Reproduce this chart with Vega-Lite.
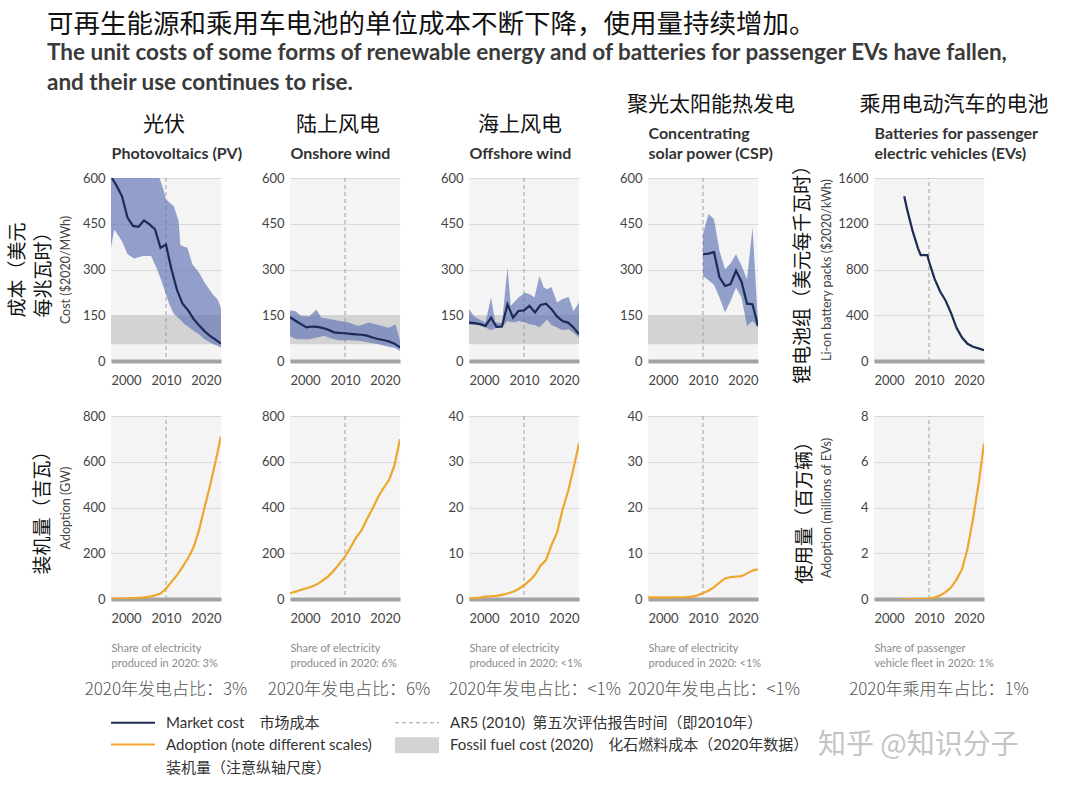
{
"$schema":"https://vega.github.io/schema/vega-lite/v6.json",
"padding":{"left":8,"top":12,"right":0,"bottom":0},
"title":{"text":"可再生能源和乘用车电池的单位成本不断下降，使用量持续增加。","subtitle":["The unit costs of some forms of renewable energy and of batteries for passenger EVs have fallen,","and their use continues to rise."],"anchor":"start","frame":"bounds","dx":39,"offset":0,"font":"Noto Sans CJK SC","fontSize":26.5,"fontWeight":"normal","color":"#111","subtitleFont":"Lato","subtitleFontSize":22.5,"subtitleFontWeight":"bold","subtitleColor":"#3a3a3a","subtitleLineHeight":30,"subtitlePadding":3},
"config":{"view":{"stroke":null},"axis":{"labelFont":"Lato","labelFontSize":13,"labelColor":"#444","ticks":false,"tickSize":0,"domain":false,"grid":false,"titleFont":"Lato","titleFontWeight":"normal","titleFontSize":12.5,"titleColor":"#444"}},
"resolve":{"scale":{"stroke":"independent"},"legend":{"stroke":"independent"}},
"datasets":{
"ar5":[{"year":2010}],
"fossil":[{"lo":55,"hi":150}],
"pv_line":[{"year":2000,"cost":605},{"year":2001,"cost":575},{"year":2002,"cost":540},{"year":2003,"cost":470},{"year":2004,"cost":443},{"year":2005,"cost":440},{"year":2006,"cost":461},{"year":2007,"cost":448},{"year":2008,"cost":432},{"year":2009,"cost":371},{"year":2010,"cost":382},{"year":2010.5,"cost":340},{"year":2011,"cost":300},{"year":2012,"cost":233},{"year":2013,"cost":188},{"year":2014,"cost":167},{"year":2015,"cost":138},{"year":2016,"cost":117},{"year":2017,"cost":98},{"year":2018,"cost":82},{"year":2019,"cost":70},{"year":2020,"cost":57}],
"pv_band":[{"year":2000,"lo":371,"hi":900},{"year":2000.6,"lo":431,"hi":890},{"year":2002,"lo":393,"hi":850},{"year":2003,"lo":350,"hi":830},{"year":2004.2,"lo":336,"hi":800},{"year":2005.8,"lo":344,"hi":760},{"year":2007.3,"lo":344,"hi":700},{"year":2008.5,"lo":295,"hi":625},{"year":2008.8,"lo":280,"hi":600},{"year":2009.5,"lo":246,"hi":565},{"year":2010,"lo":218,"hi":530},{"year":2010.6,"lo":186,"hi":520},{"year":2011.4,"lo":155,"hi":508},{"year":2012.3,"lo":140,"hi":459},{"year":2012.6,"lo":136,"hi":380},{"year":2013.4,"lo":120,"hi":374},{"year":2013.9,"lo":115,"hi":371},{"year":2014.8,"lo":102,"hi":317},{"year":2016,"lo":88,"hi":290},{"year":2017,"lo":71,"hi":257},{"year":2018.5,"lo":56,"hi":219},{"year":2019.4,"lo":49,"hi":202},{"year":2020,"lo":44,"hi":172}],
"on_line":[{"year":2000,"cost":144},{"year":2001,"cost":132},{"year":2002,"cost":121},{"year":2003,"cost":110},{"year":2004,"cost":113},{"year":2005,"cost":112},{"year":2006,"cost":108},{"year":2007,"cost":102},{"year":2008,"cost":94},{"year":2009,"cost":92},{"year":2010,"cost":91},{"year":2011,"cost":89},{"year":2012,"cost":87},{"year":2013,"cost":86},{"year":2014,"cost":83},{"year":2015,"cost":77},{"year":2016,"cost":72},{"year":2017,"cost":69},{"year":2018,"cost":64},{"year":2019,"cost":57},{"year":2020,"cost":45}],
"on_band":[{"year":2000,"lo":82,"hi":166},{"year":2001,"lo":72,"hi":163},{"year":2002,"lo":71,"hi":148},{"year":2003.5,"lo":71,"hi":146},{"year":2004.8,"lo":76,"hi":169},{"year":2005.7,"lo":80,"hi":142},{"year":2006.3,"lo":82,"hi":140},{"year":2007.5,"lo":74,"hi":137},{"year":2008.8,"lo":68,"hi":132},{"year":2010.6,"lo":68,"hi":126},{"year":2012.4,"lo":66,"hi":115},{"year":2013.7,"lo":63,"hi":122},{"year":2014.3,"lo":61,"hi":126},{"year":2016.1,"lo":55,"hi":118},{"year":2017.9,"lo":47,"hi":109},{"year":2018.6,"lo":44,"hi":115},{"year":2019.2,"lo":42,"hi":120},{"year":2020,"lo":33,"hi":66}],
"off_line":[{"year":2000,"cost":126},{"year":2001,"cost":124},{"year":2002,"cost":121},{"year":2003,"cost":115},{"year":2004,"cost":142},{"year":2005,"cost":112},{"year":2006,"cost":113},{"year":2007,"cost":186},{"year":2008,"cost":142},{"year":2009,"cost":164},{"year":2010,"cost":166},{"year":2011,"cost":181},{"year":2012,"cost":159},{"year":2013,"cost":184},{"year":2014,"cost":188},{"year":2015,"cost":170},{"year":2016,"cost":146},{"year":2017,"cost":131},{"year":2018,"cost":126},{"year":2019,"cost":110},{"year":2020,"cost":88}],
"off_band":[{"year":2000,"lo":120,"hi":170},{"year":2001,"lo":119,"hi":145},{"year":2002,"lo":117,"hi":135},{"year":2003,"lo":110,"hi":126},{"year":2004,"lo":101,"hi":208},{"year":2004.8,"lo":107,"hi":126},{"year":2006,"lo":110,"hi":125},{"year":2007,"lo":131,"hi":307},{"year":2007.6,"lo":128,"hi":181},{"year":2008.4,"lo":127,"hi":197},{"year":2009,"lo":131,"hi":208},{"year":2010.2,"lo":126,"hi":224},{"year":2011.1,"lo":120,"hi":219},{"year":2011.9,"lo":118,"hi":208},{"year":2012.8,"lo":111,"hi":279},{"year":2013.6,"lo":125,"hi":241},{"year":2014.2,"lo":137,"hi":235},{"year":2015,"lo":118,"hi":243},{"year":2016,"lo":110,"hi":192},{"year":2017,"lo":101,"hi":203},{"year":2018.1,"lo":104,"hi":210},{"year":2019,"lo":93,"hi":164},{"year":2020,"lo":77,"hi":192}],
"csp_line":[{"year":2010,"cost":350},{"year":2011,"cost":352},{"year":2012,"cost":357},{"year":2013,"cost":274},{"year":2014,"cost":246},{"year":2015,"cost":252},{"year":2016,"cost":296},{"year":2017,"cost":260},{"year":2018,"cost":188},{"year":2019,"cost":186},{"year":2020,"cost":115}],
"csp_band":[{"year":2010,"lo":279,"hi":416},{"year":2011,"lo":265,"hi":482},{"year":2012,"lo":250,"hi":465},{"year":2013,"lo":208,"hi":361},{"year":2014,"lo":159,"hi":301},{"year":2015,"lo":197,"hi":320},{"year":2016,"lo":241,"hi":350},{"year":2017,"lo":208,"hi":312},{"year":2018,"lo":115,"hi":268},{"year":2019,"lo":131,"hi":438},{"year":2020,"lo":110,"hi":125}],
"ev_line":[{"year":2005.5,"cost":1440},{"year":2006,"cost":1330},{"year":2007,"cost":1140},{"year":2008,"cost":985},{"year":2008.5,"cost":925},{"year":2009.7,"cost":925},{"year":2010,"cost":870},{"year":2011,"cost":720},{"year":2012,"cost":610},{"year":2013,"cost":530},{"year":2014,"cost":420},{"year":2015,"cost":290},{"year":2016,"cost":205},{"year":2017,"cost":150},{"year":2018,"cost":125},{"year":2019,"cost":110},{"year":2020,"cost":95}],
"pv_adopt":[{"year":2000,"value":1},{"year":2001,"value":1.5},{"year":2002,"value":2},{"year":2003,"value":3},{"year":2004,"value":4},{"year":2005,"value":5.5},{"year":2006,"value":7},{"year":2007,"value":10},{"year":2008,"value":16},{"year":2009,"value":24},{"year":2010,"value":45},{"year":2011,"value":75},{"year":2012,"value":104},{"year":2013,"value":140},{"year":2014,"value":178},{"year":2015,"value":225},{"year":2016,"value":300},{"year":2017,"value":400},{"year":2018,"value":495},{"year":2019,"value":600},{"year":2020,"value":712}],
"on_adopt":[{"year":2000,"value":25},{"year":2001,"value":32},{"year":2002,"value":40},{"year":2003,"value":47},{"year":2004,"value":55},{"year":2005,"value":65},{"year":2006,"value":82},{"year":2007,"value":100},{"year":2008,"value":125},{"year":2009,"value":155},{"year":2010,"value":185},{"year":2011,"value":225},{"year":2012,"value":268},{"year":2013,"value":300},{"year":2014,"value":350},{"year":2015,"value":395},{"year":2016,"value":445},{"year":2017,"value":485},{"year":2018,"value":520},{"year":2019,"value":585},{"year":2020,"value":698}],
"off_adopt":[{"year":2000,"value":0.1},{"year":2001,"value":0.2},{"year":2002,"value":0.3},{"year":2003,"value":0.5},{"year":2004,"value":0.6},{"year":2005,"value":0.7},{"year":2006,"value":0.9},{"year":2007,"value":1.2},{"year":2008,"value":1.6},{"year":2009,"value":2.2},{"year":2010,"value":3.0},{"year":2011,"value":4.0},{"year":2012,"value":5.3},{"year":2013,"value":7.3},{"year":2014,"value":8.5},{"year":2015,"value":11.8},{"year":2016,"value":14.5},{"year":2017,"value":19.5},{"year":2018,"value":23.5},{"year":2019,"value":28.5},{"year":2020,"value":34}],
"csp_adopt":[{"year":2000,"value":0.35},{"year":2002,"value":0.35},{"year":2004,"value":0.36},{"year":2006,"value":0.38},{"year":2007,"value":0.42},{"year":2008,"value":0.5},{"year":2009,"value":0.8},{"year":2010,"value":1.3},{"year":2011,"value":1.8},{"year":2012,"value":2.6},{"year":2013,"value":3.6},{"year":2014,"value":4.5},{"year":2015,"value":4.8},{"year":2016,"value":4.9},{"year":2017,"value":5.0},{"year":2018,"value":5.6},{"year":2019,"value":6.2},{"year":2020,"value":6.5}],
"ev_adopt":[{"year":2005,"value":0},{"year":2006,"value":0},{"year":2007,"value":0},{"year":2008,"value":0.005},{"year":2009,"value":0.01},{"year":2010,"value":0.02},{"year":2011,"value":0.06},{"year":2012,"value":0.15},{"year":2013,"value":0.3},{"year":2014,"value":0.5},{"year":2015,"value":0.85},{"year":2016,"value":1.3},{"year":2017,"value":2.2},{"year":2018,"value":3.5},{"year":2019,"value":5.0},{"year":2020,"value":6.8}]
},
"columns":10,
"spacing":{"row":55,"column":22},
"bounds":"flush",
"align":"each",
"concat":[
{"width":110,"height":183,"view":{"fill":"#f4f4f4","stroke":null},
 "title":{"text":"光伏","orient":"top","anchor":"middle","frame":"group","font":"Noto Sans CJK SC","fontSize":21,"fontWeight":"normal","color":"#111","offset":10,"dx":-2},
 "layer":[
  {"data":{"name":"fossil"},"mark":{"type":"rect","color":"#d3d3d3"},"encoding":{"y":{"field":"lo","type":"quantitative","scale":{"domain":[0,600],"nice":false},"axis":{"orient":"left","values":[0,150,300,450,600],"grid":true,"gridColor":"#d9d9d9","labelPadding":6,"title":"Cost ($2020/MWh)","titlePadding":10}},"y2":{"field":"hi"}}},
  {"data":{"name":"ar5"},"mark":{"type":"rule","color":"#9f9f9f","strokeDash":[4,3],"strokeWidth":1},"encoding":{"x":{"field":"year","type":"quantitative","scale":{"domain":[2000,2020],"nice":false,"zero":false},"axis":{"orient":"top","labels":false,"domain":false,"ticks":false,"grid":false,"title":"Photovoltaics (PV)","titleAnchor":"start","titleAlign":"left","titleBaseline":"bottom","titlePadding":17,"titleFont":"Lato","titleFontSize":16,"titleFontWeight":"bold","titleColor":"#333","titleLineHeight":20}}}},
  {"data":{"name":"pv_band"},"mark":{"type":"area","color":"#5d72b4","opacity":0.65,"clip":true},"encoding":{"x":{"field":"year","type":"quantitative","scale":{"domain":[2000,2020],"nice":false,"zero":false},"axis":{"orient":"bottom","values":[2000,2010,2020],"format":"d","labelFlush":true,"domain":true,"domainColor":"#a3a3a3","domainWidth":4,"labelPadding":13,"title":null}},"y":{"field":"hi","type":"quantitative","scale":{"domain":[0,600],"nice":false},"axis":{"orient":"left","labels":false,"ticks":false,"domain":false,"grid":false,"title":["成本（美元","每兆瓦时）"],"titleFont":"Noto Sans CJK SC","titleFontSize":19,"titleFontWeight":"normal","titleColor":"#111","titlePadding":58,"titleLineHeight":26}},"y2":{"field":"lo"}}},
  {"data":{"name":"pv_line"},"mark":{"type":"line","color":"#1c2b54","strokeWidth":2.2,"clip":true},"encoding":{"x":{"field":"year","type":"quantitative","scale":{"domain":[2000,2020],"nice":false,"zero":false},"axis":null},"y":{"field":"cost","type":"quantitative","scale":{"domain":[0,600],"nice":false},"axis":null}}}
 ],
 "resolve":{"axis":{"x":"independent","y":"independent"}}},
{"width":25,"height":183,"data":{"values":[{}]},"mark":{"type":"text","text":""},"encoding":{}},
{"width":110,"height":183,"view":{"fill":"#f4f4f4","stroke":null},
 "title":{"text":"陆上风电","orient":"top","anchor":"middle","frame":"group","font":"Noto Sans CJK SC","fontSize":21,"fontWeight":"normal","color":"#111","offset":10,"dx":-7},
 "layer":[
  {"data":{"name":"fossil"},"mark":{"type":"rect","color":"#d3d3d3"},"encoding":{"y":{"field":"lo","type":"quantitative","scale":{"domain":[0,600],"nice":false},"axis":{"orient":"left","values":[0,150,300,450,600],"grid":true,"gridColor":"#d9d9d9","labelPadding":6,"title":null}},"y2":{"field":"hi"}}},
  {"data":{"name":"ar5"},"mark":{"type":"rule","color":"#9f9f9f","strokeDash":[4,3],"strokeWidth":1},"encoding":{"x":{"field":"year","type":"quantitative","scale":{"domain":[2000,2020],"nice":false,"zero":false},"axis":{"orient":"top","labels":false,"domain":false,"ticks":false,"grid":false,"title":"Onshore wind","titleAnchor":"start","titleAlign":"left","titleBaseline":"bottom","titlePadding":17,"titleFont":"Lato","titleFontSize":16,"titleFontWeight":"bold","titleColor":"#333","titleLineHeight":20}}}},
  {"data":{"name":"on_band"},"mark":{"type":"area","color":"#5d72b4","opacity":0.65,"clip":true},"encoding":{"x":{"field":"year","type":"quantitative","scale":{"domain":[2000,2020],"nice":false,"zero":false},"axis":{"orient":"bottom","values":[2000,2010,2020],"format":"d","labelFlush":true,"domain":true,"domainColor":"#a3a3a3","domainWidth":4,"labelPadding":13,"title":null}},"y":{"field":"hi","type":"quantitative","scale":{"domain":[0,600],"nice":false},"axis":null},"y2":{"field":"lo"}}},
  {"data":{"name":"on_line"},"mark":{"type":"line","color":"#1c2b54","strokeWidth":2.2,"clip":true},"encoding":{"x":{"field":"year","type":"quantitative","scale":{"domain":[2000,2020],"nice":false,"zero":false},"axis":null},"y":{"field":"cost","type":"quantitative","scale":{"domain":[0,600],"nice":false},"axis":null}}}
 ],
 "resolve":{"axis":{"x":"independent","y":"independent"}}},
{"width":25,"height":183,"data":{"values":[{}]},"mark":{"type":"text","text":""},"encoding":{}},
{"width":110,"height":183,"view":{"fill":"#f4f4f4","stroke":null},
 "title":{"text":"海上风电","orient":"top","anchor":"middle","frame":"group","font":"Noto Sans CJK SC","fontSize":21,"fontWeight":"normal","color":"#111","offset":10,"dx":-4},
 "layer":[
  {"data":{"name":"fossil"},"mark":{"type":"rect","color":"#d3d3d3"},"encoding":{"y":{"field":"lo","type":"quantitative","scale":{"domain":[0,600],"nice":false},"axis":{"orient":"left","values":[0,150,300,450,600],"grid":true,"gridColor":"#d9d9d9","labelPadding":6,"title":null}},"y2":{"field":"hi"}}},
  {"data":{"name":"ar5"},"mark":{"type":"rule","color":"#9f9f9f","strokeDash":[4,3],"strokeWidth":1},"encoding":{"x":{"field":"year","type":"quantitative","scale":{"domain":[2000,2020],"nice":false,"zero":false},"axis":{"orient":"top","labels":false,"domain":false,"ticks":false,"grid":false,"title":"Offshore wind","titleAnchor":"start","titleAlign":"left","titleBaseline":"bottom","titlePadding":17,"titleFont":"Lato","titleFontSize":16,"titleFontWeight":"bold","titleColor":"#333","titleLineHeight":20}}}},
  {"data":{"name":"off_band"},"mark":{"type":"area","color":"#5d72b4","opacity":0.65,"clip":true},"encoding":{"x":{"field":"year","type":"quantitative","scale":{"domain":[2000,2020],"nice":false,"zero":false},"axis":{"orient":"bottom","values":[2000,2010,2020],"format":"d","labelFlush":true,"domain":true,"domainColor":"#a3a3a3","domainWidth":4,"labelPadding":13,"title":null}},"y":{"field":"hi","type":"quantitative","scale":{"domain":[0,600],"nice":false},"axis":null},"y2":{"field":"lo"}}},
  {"data":{"name":"off_line"},"mark":{"type":"line","color":"#1c2b54","strokeWidth":2.2,"clip":true},"encoding":{"x":{"field":"year","type":"quantitative","scale":{"domain":[2000,2020],"nice":false,"zero":false},"axis":null},"y":{"field":"cost","type":"quantitative","scale":{"domain":[0,600],"nice":false},"axis":null}}}
 ],
 "resolve":{"axis":{"x":"independent","y":"independent"}}},
{"width":25,"height":183,"data":{"values":[{}]},"mark":{"type":"text","text":""},"encoding":{}},
{"width":110,"height":183,"view":{"fill":"#f4f4f4","stroke":null},
 "title":{"text":"聚光太阳能热发电","orient":"top","anchor":"middle","frame":"group","font":"Noto Sans CJK SC","fontSize":21,"fontWeight":"normal","color":"#111","offset":10,"dx":8},
 "layer":[
  {"data":{"name":"fossil"},"mark":{"type":"rect","color":"#d3d3d3"},"encoding":{"y":{"field":"lo","type":"quantitative","scale":{"domain":[0,600],"nice":false},"axis":{"orient":"left","values":[0,150,300,450,600],"grid":true,"gridColor":"#d9d9d9","labelPadding":6,"title":null}},"y2":{"field":"hi"}}},
  {"data":{"name":"ar5"},"mark":{"type":"rule","color":"#9f9f9f","strokeDash":[4,3],"strokeWidth":1},"encoding":{"x":{"field":"year","type":"quantitative","scale":{"domain":[2000,2020],"nice":false,"zero":false},"axis":{"orient":"top","labels":false,"domain":false,"ticks":false,"grid":false,"title":["Concentrating","solar power (CSP)"],"titleAnchor":"start","titleAlign":"left","titleBaseline":"bottom","titlePadding":17,"titleFont":"Lato","titleFontSize":16,"titleFontWeight":"bold","titleColor":"#333","titleLineHeight":20}}}},
  {"data":{"name":"csp_band"},"mark":{"type":"area","color":"#5d72b4","opacity":0.65,"clip":true},"encoding":{"x":{"field":"year","type":"quantitative","scale":{"domain":[2000,2020],"nice":false,"zero":false},"axis":{"orient":"bottom","values":[2000,2010,2020],"format":"d","labelFlush":true,"domain":true,"domainColor":"#a3a3a3","domainWidth":4,"labelPadding":13,"title":null}},"y":{"field":"hi","type":"quantitative","scale":{"domain":[0,600],"nice":false},"axis":null},"y2":{"field":"lo"}}},
  {"data":{"name":"csp_line"},"mark":{"type":"line","color":"#1c2b54","strokeWidth":2.2,"clip":true},"encoding":{"x":{"field":"year","type":"quantitative","scale":{"domain":[2000,2020],"nice":false,"zero":false},"axis":null},"y":{"field":"cost","type":"quantitative","scale":{"domain":[0,600],"nice":false},"axis":null}}}
 ],
 "resolve":{"axis":{"x":"independent","y":"independent"}}},
{"width":25,"height":183,"data":{"values":[{}]},"mark":{"type":"text","text":""},"encoding":{}},
{"width":25,"height":183,"data":{"values":[{}]},"mark":{"type":"text","text":""},"encoding":{}},
{"width":110,"height":183,"view":{"fill":"#f4f4f4","stroke":null},
 "title":{"text":"乘用电动汽车的电池","orient":"top","anchor":"middle","frame":"group","font":"Noto Sans CJK SC","fontSize":21,"fontWeight":"normal","color":"#111","offset":10,"dx":25},
 "layer":[
  {"data":{"name":"ar5"},"mark":{"type":"rule","color":"#9f9f9f","strokeDash":[4,3],"strokeWidth":1},"encoding":{"x":{"field":"year","type":"quantitative","scale":{"domain":[2000,2020],"nice":false,"zero":false},"axis":{"orient":"top","labels":false,"domain":false,"ticks":false,"grid":false,"title":["Batteries for passenger","electric vehicles (EVs)"],"titleAnchor":"start","titleAlign":"left","titleBaseline":"bottom","titlePadding":17,"titleFont":"Lato","titleFontSize":16,"titleFontWeight":"bold","titleColor":"#333","titleLineHeight":20}},"y":{"datum":0,"type":"quantitative","scale":{"domain":[0,1600],"nice":false},"axis":{"orient":"left","labels":false,"ticks":false,"domain":false,"grid":false,"title":"锂电池组（美元每千瓦时）","titleFont":"Noto Sans CJK SC","titleFontSize":19,"titleFontWeight":"normal","titleColor":"#111","titlePadding":62}},"y2":{"datum":1600}}},
  {"data":{"name":"ev_line"},"mark":{"type":"line","color":"#1c2b54","strokeWidth":2.2,"clip":true},"encoding":{"x":{"field":"year","type":"quantitative","scale":{"domain":[2000,2020],"nice":false,"zero":false},"axis":{"orient":"bottom","values":[2000,2010,2020],"format":"d","labelFlush":true,"domain":true,"domainColor":"#a3a3a3","domainWidth":4,"labelPadding":13,"title":null}},"y":{"field":"cost","type":"quantitative","scale":{"domain":[0,1600],"nice":false},"axis":{"orient":"left","values":[0,400,800,1200,1600],"format":"d","grid":true,"gridColor":"#d9d9d9","labelPadding":6,"title":"Li-on battery packs ($2020/kWh)","titlePadding":4}}}}
 ],
 "resolve":{"axis":{"x":"independent","y":"independent"}}},

{"width":110,"height":183,"view":{"fill":"#f4f4f4","stroke":null},
 "title":{"text":"2020年发电占比：3%","orient":"bottom","anchor":"middle","frame":"group","font":"Noto Sans CJK SC","fontSize":17,"fontWeight":300,"color":"#555","offset":14,"dx":0},
 "layer":[
  {"data":{"name":"ar5"},"mark":{"type":"rule","color":"#9f9f9f","strokeDash":[4,3],"strokeWidth":1},"encoding":{"x":{"field":"year","type":"quantitative","scale":{"domain":[2000,2020],"nice":false,"zero":false},"axis":null},"y":{"datum":0,"type":"quantitative","scale":{"domain":[0,800],"nice":false},"axis":{"orient":"left","labels":false,"ticks":false,"domain":false,"grid":false,"title":"装机量（吉瓦）","titleFont":"Noto Sans CJK SC","titleFontSize":19,"titleFontWeight":"normal","titleColor":"#111","titlePadding":59}},"y2":{"datum":800}}},
  {"data":{"name":"pv_adopt"},"mark":{"type":"line","color":"#eea62c","strokeWidth":2.2,"clip":true},"encoding":{"x":{"field":"year","type":"quantitative","scale":{"domain":[2000,2020],"nice":false,"zero":false},"axis":{"orient":"bottom","values":[2000,2010,2020],"format":"d","labelFlush":true,"domain":true,"domainColor":"#a3a3a3","domainWidth":4,"labelPadding":13,"title":["Share of electricity","produced in 2020: 3%"],"titleAnchor":"start","titleAlign":"left","titleBaseline":"top","titlePadding":17,"titleFont":"Lato","titleFontSize":11,"titleFontWeight":"normal","titleColor":"#8c8c8c","titleLineHeight":15}},"y":{"field":"value","type":"quantitative","scale":{"domain":[0,800],"nice":false},"axis":{"orient":"left","values":[0,200,400,600,800],"grid":true,"gridColor":"#d9d9d9","labelPadding":6,"title":"Adoption (GW)","titlePadding":10}}}}
 ],
 "resolve":{"axis":{"x":"independent","y":"independent"}}},
{"width":25,"height":183,"data":{"values":[{}]},"mark":{"type":"text","text":""},"encoding":{}},
{"width":110,"height":183,"view":{"fill":"#f4f4f4","stroke":null},
 "title":{"text":"2020年发电占比：6%","orient":"bottom","anchor":"middle","frame":"group","font":"Noto Sans CJK SC","fontSize":17,"fontWeight":300,"color":"#555","offset":14,"dx":4},
 "layer":[
  {"data":{"name":"ar5"},"mark":{"type":"rule","color":"#9f9f9f","strokeDash":[4,3],"strokeWidth":1},"encoding":{"x":{"field":"year","type":"quantitative","scale":{"domain":[2000,2020],"nice":false,"zero":false},"axis":null}}},
  {"data":{"name":"on_adopt"},"mark":{"type":"line","color":"#eea62c","strokeWidth":2.2,"clip":true},"encoding":{"x":{"field":"year","type":"quantitative","scale":{"domain":[2000,2020],"nice":false,"zero":false},"axis":{"orient":"bottom","values":[2000,2010,2020],"format":"d","labelFlush":true,"domain":true,"domainColor":"#a3a3a3","domainWidth":4,"labelPadding":13,"title":["Share of electricity","produced in 2020: 6%"],"titleAnchor":"start","titleAlign":"left","titleBaseline":"top","titlePadding":17,"titleFont":"Lato","titleFontSize":11,"titleFontWeight":"normal","titleColor":"#8c8c8c","titleLineHeight":15}},"y":{"field":"value","type":"quantitative","scale":{"domain":[0,800],"nice":false},"axis":{"orient":"left","values":[0,200,400,600,800],"grid":true,"gridColor":"#d9d9d9","labelPadding":6,"title":null}}}}
 ],
 "resolve":{"axis":{"x":"independent","y":"independent"}}},
{"width":25,"height":183,"data":{"values":[{}]},"mark":{"type":"text","text":""},"encoding":{}},
{"width":110,"height":183,"view":{"fill":"#f4f4f4","stroke":null},
 "title":{"text":"2020年发电占比：<1%","orient":"bottom","anchor":"middle","frame":"group","font":"Noto Sans CJK SC","fontSize":17,"fontWeight":300,"color":"#555","offset":14,"dx":11},
 "layer":[
  {"data":{"name":"ar5"},"mark":{"type":"rule","color":"#9f9f9f","strokeDash":[4,3],"strokeWidth":1},"encoding":{"x":{"field":"year","type":"quantitative","scale":{"domain":[2000,2020],"nice":false,"zero":false},"axis":null}}},
  {"data":{"name":"off_adopt"},"mark":{"type":"line","color":"#eea62c","strokeWidth":2.2,"clip":true},"encoding":{"x":{"field":"year","type":"quantitative","scale":{"domain":[2000,2020],"nice":false,"zero":false},"axis":{"orient":"bottom","values":[2000,2010,2020],"format":"d","labelFlush":true,"domain":true,"domainColor":"#a3a3a3","domainWidth":4,"labelPadding":13,"title":["Share of electricity","produced in 2020: <1%"],"titleAnchor":"start","titleAlign":"left","titleBaseline":"top","titlePadding":17,"titleFont":"Lato","titleFontSize":11,"titleFontWeight":"normal","titleColor":"#8c8c8c","titleLineHeight":15}},"y":{"field":"value","type":"quantitative","scale":{"domain":[0,40],"nice":false},"axis":{"orient":"left","values":[0,10,20,30,40],"grid":true,"gridColor":"#d9d9d9","labelPadding":6,"title":null}}}}
 ],
 "resolve":{"axis":{"x":"independent","y":"independent"}}},
{"width":25,"height":183,"data":{"values":[{}]},"mark":{"type":"text","text":""},"encoding":{}},
{"width":110,"height":183,"view":{"fill":"#f4f4f4","stroke":null},
 "title":{"text":"2020年发电占比：<1%","orient":"bottom","anchor":"middle","frame":"group","font":"Noto Sans CJK SC","fontSize":17,"fontWeight":300,"color":"#555","offset":14,"dx":11},
 "layer":[
  {"data":{"name":"ar5"},"mark":{"type":"rule","color":"#9f9f9f","strokeDash":[4,3],"strokeWidth":1},"encoding":{"x":{"field":"year","type":"quantitative","scale":{"domain":[2000,2020],"nice":false,"zero":false},"axis":null}}},
  {"data":{"name":"csp_adopt"},"mark":{"type":"line","color":"#eea62c","strokeWidth":2.2,"clip":true},"encoding":{"x":{"field":"year","type":"quantitative","scale":{"domain":[2000,2020],"nice":false,"zero":false},"axis":{"orient":"bottom","values":[2000,2010,2020],"format":"d","labelFlush":true,"domain":true,"domainColor":"#a3a3a3","domainWidth":4,"labelPadding":13,"title":["Share of electricity","produced in 2020: <1%"],"titleAnchor":"start","titleAlign":"left","titleBaseline":"top","titlePadding":17,"titleFont":"Lato","titleFontSize":11,"titleFontWeight":"normal","titleColor":"#8c8c8c","titleLineHeight":15}},"y":{"field":"value","type":"quantitative","scale":{"domain":[0,40],"nice":false},"axis":{"orient":"left","values":[0,10,20,30,40],"grid":true,"gridColor":"#d9d9d9","labelPadding":6,"title":null}}}}
 ],
 "resolve":{"axis":{"x":"independent","y":"independent"}}},
{"width":25,"height":183,"data":{"values":[{}]},"mark":{"type":"text","text":""},"encoding":{}},
{"width":25,"height":183,"data":{"values":[{}]},"mark":{"type":"text","text":""},"encoding":{}},
{"width":110,"height":183,"view":{"fill":"#f4f4f4","stroke":null},
 "title":{"text":"2020年乘用车占比：1%","orient":"bottom","anchor":"middle","frame":"group","font":"Noto Sans CJK SC","fontSize":17,"fontWeight":300,"color":"#555","offset":14,"dx":10},
 "layer":[
  {"data":{"name":"ar5"},"mark":{"type":"rule","color":"#9f9f9f","strokeDash":[4,3],"strokeWidth":1},"encoding":{"x":{"field":"year","type":"quantitative","scale":{"domain":[2000,2020],"nice":false,"zero":false},"axis":null},"y":{"datum":0,"type":"quantitative","scale":{"domain":[0,8],"nice":false},"axis":{"orient":"left","labels":false,"ticks":false,"domain":false,"grid":false,"title":"使用量（百万辆）","titleFont":"Noto Sans CJK SC","titleFontSize":19,"titleFontWeight":"normal","titleColor":"#111","titlePadding":60}},"y2":{"datum":8}}},
  {"data":{"name":"ev_adopt"},"mark":{"type":"line","color":"#eea62c","strokeWidth":2.2,"clip":true},"encoding":{"x":{"field":"year","type":"quantitative","scale":{"domain":[2000,2020],"nice":false,"zero":false},"axis":{"orient":"bottom","values":[2000,2010,2020],"format":"d","labelFlush":true,"domain":true,"domainColor":"#a3a3a3","domainWidth":4,"labelPadding":13,"title":["Share of passenger","vehicle fleet in 2020: 1%"],"titleAnchor":"start","titleAlign":"left","titleBaseline":"top","titlePadding":17,"titleFont":"Lato","titleFontSize":11,"titleFontWeight":"normal","titleColor":"#8c8c8c","titleLineHeight":15}},"y":{"field":"value","type":"quantitative","scale":{"domain":[0,8],"nice":false},"axis":{"orient":"left","values":[0,2,4,6,8],"grid":true,"gridColor":"#d9d9d9","labelPadding":6,"title":"Adoption (millions of EVs)","titlePadding":27}}}}
 ],
 "resolve":{"axis":{"x":"independent","y":"independent"}}},

{"width":110,"height":122,"data":{"values":[]},"mark":{"type":"line"},
 "title":{"text":"知乎 @知识分子","orient":"bottom","anchor":"start","frame":"group","dx":707,"offset":-44,"font":"Noto Sans CJK SC","fontSize":28,"fontWeight":"normal","color":"#c4c4c4"},
 "encoding":{"stroke":{"datum":"Market cost","type":"nominal",
  "scale":{"domain":["Market cost","Adoption","AR5 (2010)","Fossil fuel cost (2020)"],"range":["#1c2b54","#eea62c","#a0a0a0","#d3d3d3"]},
  "legend":{"orient":"bottom-left","offset":0,"padding":0,"title":null,"columns":2,"columnPadding":21,"rowPadding":5,"symbolType":"stroke","symbolSize":1936,"symbolStrokeWidth":2,"labelFont":"Lato, Noto Sans CJK SC","labelFontSize":15,"labelColor":"#333","labelOffset":11,"labelLimit":600,"labelBaseline":"alphabetic",
   "labelExpr":"datum.label === 'Market cost' ? 'Market cost\u2003 市场成本' : datum.label === 'Adoption' ? ['Adoption (note different scales)', '装机量（注意纵轴尺度）'] : datum.label === 'AR5 (2010)' ? 'AR5 (2010)\u2002第五次评估报告时间（即2010年）' : 'Fossil fuel cost (2020)\u2003 化石燃料成本（2020年数据）'",
   "encode":{"labels":{"update":{"dy":{"value":5},"x":{"value":55},"lineHeight":{"value":23}}},"symbols":{"update":{"x":{"value":22},"shape":{"signal":"datum.value === 'Fossil fuel cost (2020)' ? 'M-1,-0.36H1V0.36H-1Z' : 'stroke'"},"fill":{"signal":"datum.value === 'Fossil fuel cost (2020)' ? '#d3d3d3' : 'transparent'"},"strokeDash":{"signal":"datum.value === 'AR5 (2010)' ? [4,3] : [1,0]"},"strokeWidth":{"signal":"datum.value === 'AR5 (2010)' ? 1 : datum.value === 'Fossil fuel cost (2020)' ? 0 : 2"},"opacity":{"value":1}}}}
  }}}}
]
}
